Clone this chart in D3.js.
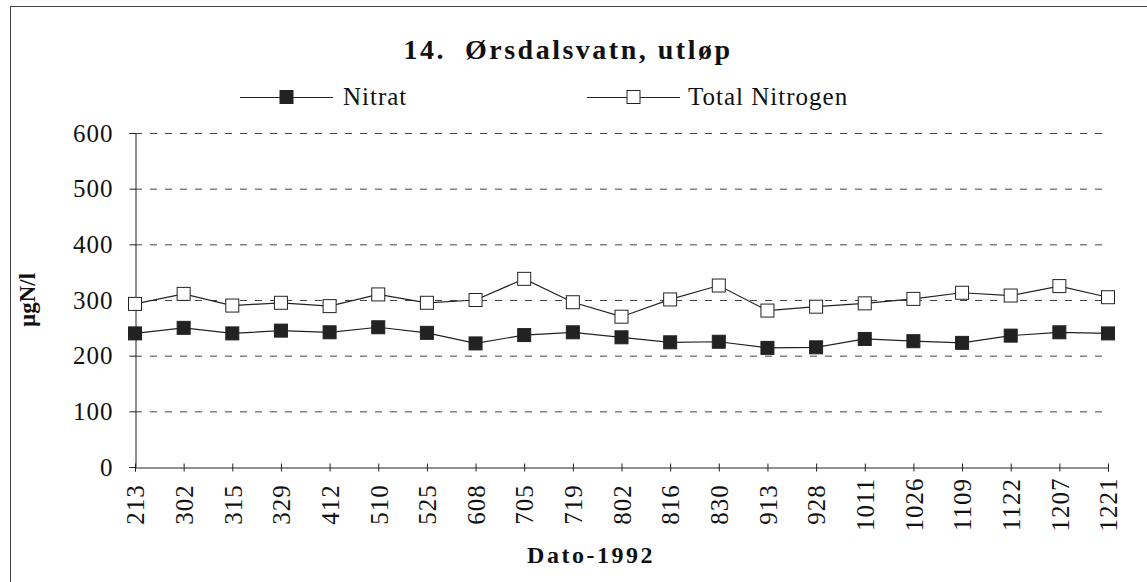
<!DOCTYPE html>
<html>
<head>
<meta charset="utf-8">
<script src="https://cdn.jsdelivr.net/npm/d3@7"></script>
<style>
    body { margin: 0; background: #fff; }
</style>
</head>
<body>
<script>
const dates = ['213', '302', '315', '329', '412', '510', '525', '608', '705', '719', '802',
    '816', '830', '913', '928', '1011', '1026', '1109', '1122', '1207', '1221'];
const nitrat = [240, 250, 240, 245, 242, 251, 241, 222, 237, 242, 233,
    224, 225, 214, 215, 230, 226, 223, 236, 242, 240];
const totalNitrogen = [293, 311, 290, 295, 289, 310, 295, 300, 338, 296, 270,
    301, 326, 281, 288, 294, 302, 313, 308, 325, 305];
const yTicks = [0, 100, 200, 300, 400, 500, 600];

const SERIF = "'Liberation Serif', 'Times New Roman', Times, serif";

function draw() {
    const width = 1147;
    const height = 582;
    const plot = { left: 135, right: 1108, top: 133, bottom: 467 };

    const svg = d3.select('body')
        .append('svg')
        .attr('width', width)
        .attr('height', height)
        .style('font-family', SERIF);

    // outer frame (runs off the right and bottom of the picture)
    svg.append('rect')
        .attr('x', 10.5)
        .attr('y', 6.5)
        .attr('width', 1160)
        .attr('height', 600)
        .attr('fill', 'none')
        .attr('stroke', '#444')
        .attr('stroke-width', 1);

    const x = d3.scalePoint().domain(dates).range([plot.left, plot.right]);
    const y = d3.scaleLinear().domain([0, 600]).range([plot.bottom, plot.top]);

    // dashed gridlines
    svg.append('g')
        .selectAll('line')
        .data(yTicks.filter(d => d > 0))
        .enter()
        .append('line')
        .attr('x1', plot.left)
        .attr('x2', plot.right)
        .attr('y1', d => y(d) + 0.5)
        .attr('y2', d => y(d) + 0.5)
        .attr('stroke', '#444')
        .attr('stroke-width', 1)
        .attr('stroke-dasharray', '7,8');

    // y axis
    const yAxis = d3.axisLeft(y).tickValues(yTicks).tickSize(6).tickPadding(16);
    const gy = svg.append('g')
        .attr('transform', 'translate(' + (plot.left + 0.5) + ',0)')
        .call(yAxis)
        .attr('font-family', null);
    gy.select('.domain').attr('stroke', '#222');
    gy.selectAll('.tick line').attr('stroke', '#222');
    gy.selectAll('.tick text')
        .style('font-family', SERIF)
        .style('font-size', '25px')
        .attr('letter-spacing', 1)
        .attr('fill', '#111');

    // x axis
    const xAxis = d3.axisBottom(x).tickSize(4).tickPadding(6);
    const gx = svg.append('g')
        .attr('transform', 'translate(0,' + (plot.bottom + 0.5) + ')')
        .call(xAxis)
        .attr('font-family', null);
    gx.select('.domain').attr('stroke', '#222');
    gx.selectAll('.tick line').attr('stroke', '#222').attr('y1', -4);
    gx.selectAll('.tick text')
        .style('font-family', SERIF)
        .style('font-size', '25px')
        .attr('letter-spacing', 1)
        .attr('fill', '#111')
        .attr('transform', 'rotate(-90)')
        .attr('text-anchor', 'middle')
        .attr('dy', '0.35em')
        .attr('x', -37)
        .attr('y', 0);

    const line = d3.line()
        .x((d, i) => x(dates[i]))
        .y(d => y(d));

    const series = [
        { name: 'Nitrat', values: nitrat, fill: '#222' },
        { name: 'Total Nitrogen', values: totalNitrogen, fill: '#fff' }
    ];

    const m = 13;
    series.forEach(s => {
        svg.append('path')
            .datum(s.values)
            .attr('d', line)
            .attr('fill', 'none')
            .attr('stroke', '#222')
            .attr('stroke-width', 1.2);

        svg.append('g')
            .selectAll('rect')
            .data(s.values)
            .enter()
            .append('rect')
            .attr('x', (d, i) => x(dates[i]) - m / 2)
            .attr('y', d => y(d) - m / 2)
            .attr('width', m)
            .attr('height', m)
            .attr('fill', s.fill)
            .attr('stroke', '#222')
            .attr('stroke-width', 1);
    });

    // title
    svg.append('text')
        .attr('x', 568)
        .attr('y', 59)
        .attr('text-anchor', 'middle')
        .style('font-family', SERIF)
        .style('font-size', '28px')
        .style('font-weight', 'bold')
        .attr('letter-spacing', 2.5)
        .attr('fill', '#111')
        .attr('xml:space', 'preserve')
        .text('14.  Ørsdalsvatn, utløp');

    // legend
    const legendItems = [
        { x0: 240, x1: 333, tx: 343 },
        { x0: 587, x1: 680, tx: 688 }
    ];
    const ly = 97;
    series.forEach((s, i) => {
        const li = legendItems[i];
        svg.append('line')
            .attr('x1', li.x0).attr('x2', li.x1)
            .attr('y1', ly + 0.5).attr('y2', ly + 0.5)
            .attr('stroke', '#222');
        svg.append('rect')
            .attr('x', (li.x0 + li.x1) / 2 - m / 2)
            .attr('y', ly - m / 2)
            .attr('width', m).attr('height', m)
            .attr('fill', s.fill)
            .attr('stroke', '#222');
        svg.append('text')
            .attr('x', li.tx)
            .attr('y', ly + 8)
            .style('font-family', SERIF)
            .style('font-size', '25px')
            .attr('letter-spacing', 1)
            .attr('fill', '#111')
            .text(s.name);
    });

    // axis titles
    svg.append('text')
        .attr('transform', 'translate(35,300) rotate(-90)')
        .attr('text-anchor', 'middle')
        .style('font-family', SERIF)
        .style('font-size', '23px')
        .style('font-weight', 'bold')
        .attr('fill', '#111')
        .text('µgN/l');

    svg.append('text')
        .attr('x', 591)
        .attr('y', 563)
        .attr('text-anchor', 'middle')
        .style('font-family', SERIF)
        .style('font-size', '24px')
        .style('font-weight', 'bold')
        .attr('letter-spacing', 2.5)
        .attr('fill', '#111')
        .text('Dato-1992');
}

document.addEventListener('DOMContentLoaded', () => draw());
</script>
</body>
</html>
